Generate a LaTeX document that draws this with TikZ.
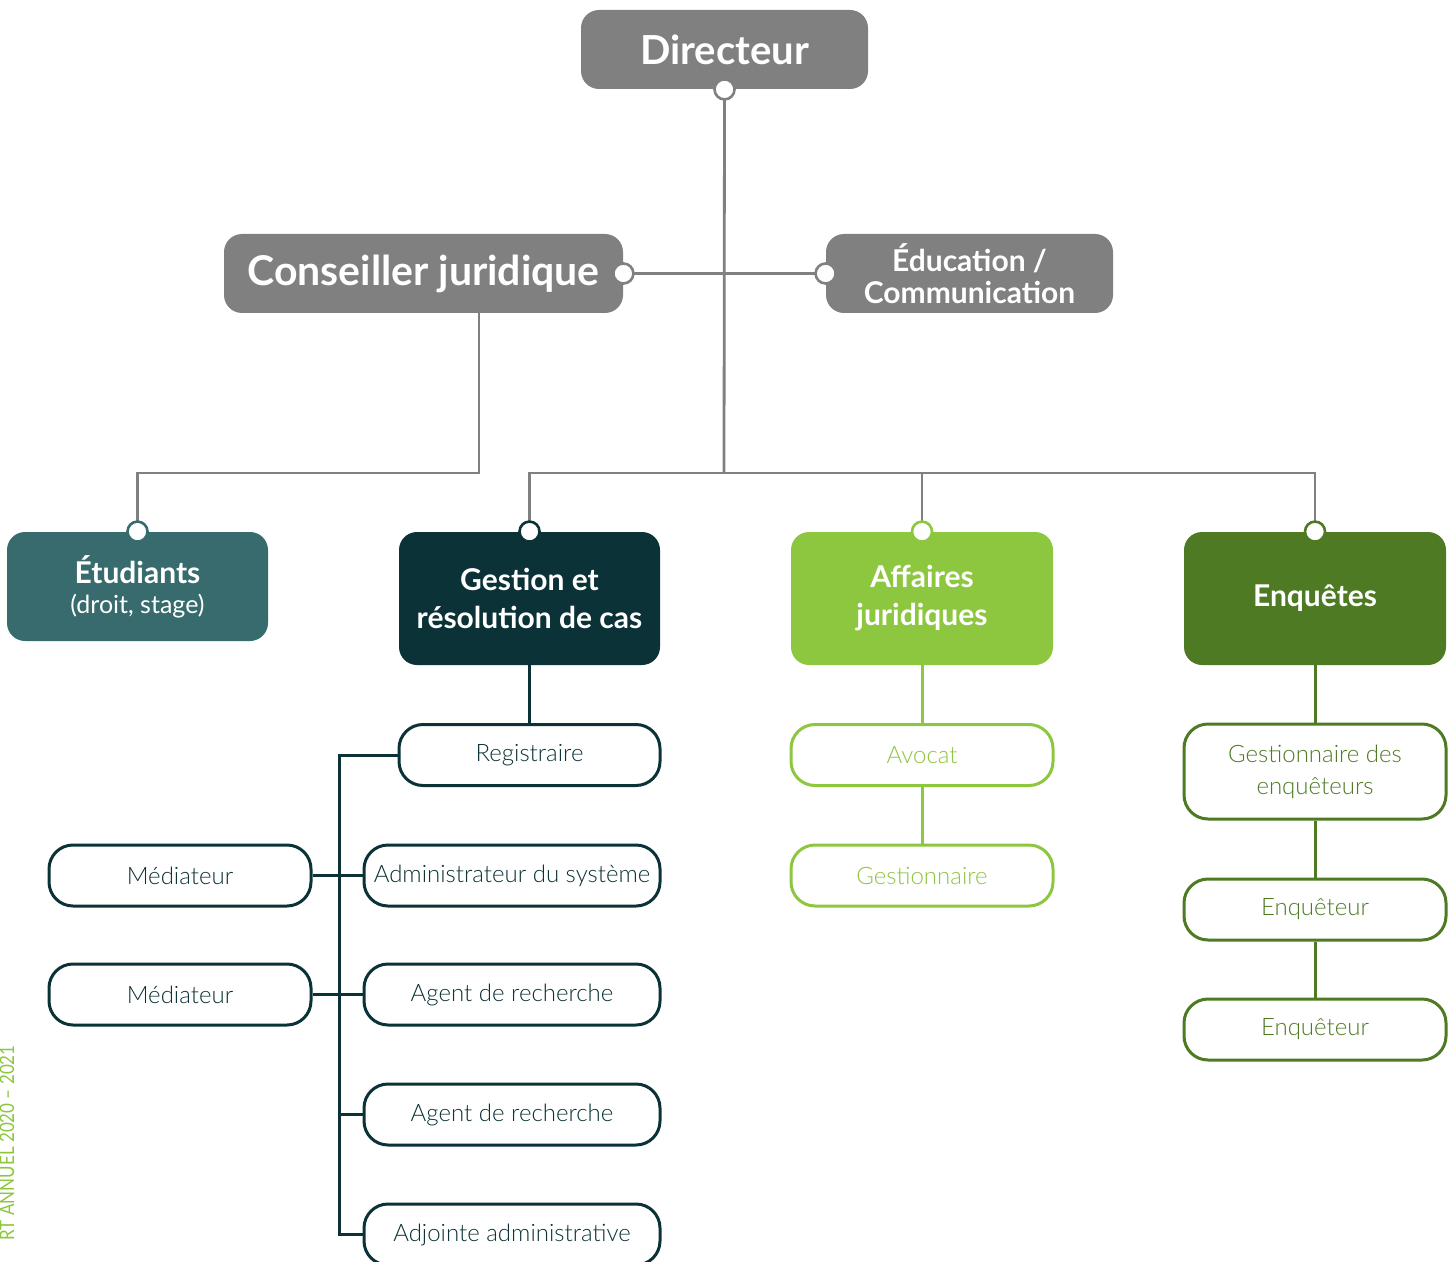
\documentclass[tikz,border=0pt]{standalone}
\usepackage{fontspec}
\setmainfont{Lato}
\newfontfamily\lightfont{Lato Light}
\newfontfamily\sidefont[FakeStretch=0.85]{Lato}
\definecolor{cgray}{HTML}{808080}
\definecolor{cteal}{HTML}{376B6D}
\definecolor{cdark}{HTML}{0B3236}
\definecolor{clight}{HTML}{8DC63F}
\definecolor{cgreen}{HTML}{4E7A23}
\tikzset{
  topbox/.style={fill=cgray, text=white, rounded corners=9pt, minimum height=39.5pt, align=center, font=\bfseries, inner sep=0pt},
  midbox/.style={fill=#1, text=white, rounded corners=9pt, minimum width=130.5pt, minimum height=66.5pt, align=center, font=\fontsize{15}{19}\selectfont\bfseries, inner sep=0pt},
  subbox/.style={draw=#1, text=#1, fill=white, line width=1.5pt, rounded corners=12pt, minimum width=130.5pt, minimum height=30.5pt, align=center, font=\lightfont\fontsize{12}{16}\selectfont, inner sep=0pt},
  dot/.style={circle, draw=#1, fill=white, line width=1.3pt, minimum size=10pt, inner sep=0pt},
  gline/.style={draw=cgray, line width=1.4pt},
  sline/.style={draw=#1, line width=1.5pt},
}
\begin{document}
\begin{tikzpicture}[x=0.5pt, y=-0.5pt]
\useasboundingbox (0,0) rectangle (1455,1262);
\clip (0,0) rectangle (1455,1262);
% top level
\node[topbox, minimum width=143.5pt, font=\fontsize{20}{22}\selectfont\bfseries] (dir) at (724.5,49.5) {Directeur};
\node[topbox, minimum width=199.5pt, font=\fontsize{20.5}{22}\selectfont\bfseries] (cons) at (423.5,273.5) {Conseiller juridique};
\node[topbox, minimum width=143.5pt, font=\fontsize{15}{16}\selectfont\bfseries, text depth=0pt] (edu) at (969.5,273.5) {Éducation /\\Communication};
% second level
\node[midbox=cteal, minimum height=54.5pt, font=\fontsize{15}{15}\selectfont\bfseries] (etu) at (137.5,586.5) {Étudiants\\{\normalfont\fontsize{12.5}{15}\selectfont (droit, stage)}};
\node[midbox=cdark] (ges) at (529.5,598.5) {Gestion et\\résolution de cas};
\node[midbox=clight, minimum width=131pt] (aff) at (922,598.5) {Affaires\\juridiques};
\node[midbox=cgreen, minimum width=131pt] (enq) at (1315,598.5) {Enquêtes};
% gestion subs
\node[subbox=cdark] (reg) at (529.5,755) {Registraire};
\node[subbox=cdark, minimum width=148pt] (adm) at (512,875.5) {Administrateur du système};
\node[subbox=cdark, minimum width=148pt] (ag1) at (512,994.5) {Agent de recherche};
\node[subbox=cdark, minimum width=148pt] (ag2) at (512,1114.5) {Agent de recherche};
\node[subbox=cdark, minimum width=148pt] (adj) at (512,1234.5) {Adjointe administrative};
\node[subbox=cdark, minimum width=131pt] (med1) at (180,875.5) {Médiateur};
\node[subbox=cdark, minimum width=131pt] (med2) at (180,994.5) {Médiateur};
% affaires subs
\node[subbox=clight, minimum width=131pt] (avo) at (922,755) {Avocat};
\node[subbox=clight, minimum width=131pt] (gsn) at (922,875.5) {Gestionnaire};
% enquetes subs
\node[subbox=cgreen, minimum width=131pt, minimum height=47.5pt] (gde) at (1315,771.5) {Gestionnaire des\\enquêteurs};
\node[subbox=cgreen, minimum width=131pt] (eq1) at (1315,909.5) {Enquêteur};
\node[subbox=cgreen, minimum width=131pt] (eq2) at (1315,1029.5) {Enquêteur};
% junctions
\coordinate (bus) at (724,473);
\coordinate (consout) at (479,313);
\coordinate (spine) at (339,756);
% dots positions
\coordinate (pdir) at (dir.south);
\coordinate (pcons) at (cons.east);
\coordinate (pedu) at (edu.west);
\coordinate (petu) at (etu.north);
\coordinate (pges) at (ges.north);
\coordinate (paff) at (aff.north);
\coordinate (penq) at (enq.north);
% gray connectors
\draw[gline] (pdir) -- (bus);
\draw[gline] (pcons) -- (pedu);
\draw[gline] (consout) |- (petu |- bus) -- (petu);
\draw[gline] (pges) |- (penq |- bus) -- (penq);
\draw[gline] (paff) -- (paff |- bus);
% dots
\node[dot=cgray] (ddir) at (pdir) {};
\node[dot=cgray] (dcons) at (pcons) {};
\node[dot=cgray] (dedu) at (pedu) {};
\node[dot=cteal] (detu) at (petu) {};
\node[dot=cdark] (dges) at (pges) {};
\node[dot=clight] (daff) at (paff) {};
\node[dot=cgreen] (denq) at (penq) {};
% gestion connectors
\draw[sline=cdark] (ges.south) -- (reg.north);
\draw[sline=cdark] (reg.west) -| (spine |- adj.west) -- (adj.west);
\draw[sline=cdark] (med1.east) -- (adm.west);
\draw[sline=cdark] (med2.east) -- (ag1.west);
\draw[sline=cdark] (spine |- ag2.west) -- (ag2.west);
% affaires connectors
\draw[sline=clight] (aff.south) -- (avo.north);
\draw[sline=clight] (avo.south) -- (gsn.north);
% enquetes connectors
\draw[sline=cgreen] (enq.south) -- (gde.north);
\draw[sline=cgreen] (gde.south) -- (eq1.north);
\draw[sline=cgreen] (eq1.south) -- (eq2.north);
% side text
\node[rotate=90, anchor=base east, text=clight, inner sep=0pt, font=\sidefont\fontsize{10}{12}\selectfont] (side) at (14,1045) {RT ANNUEL 2020 – 2021};
\end{tikzpicture}
\end{document}
